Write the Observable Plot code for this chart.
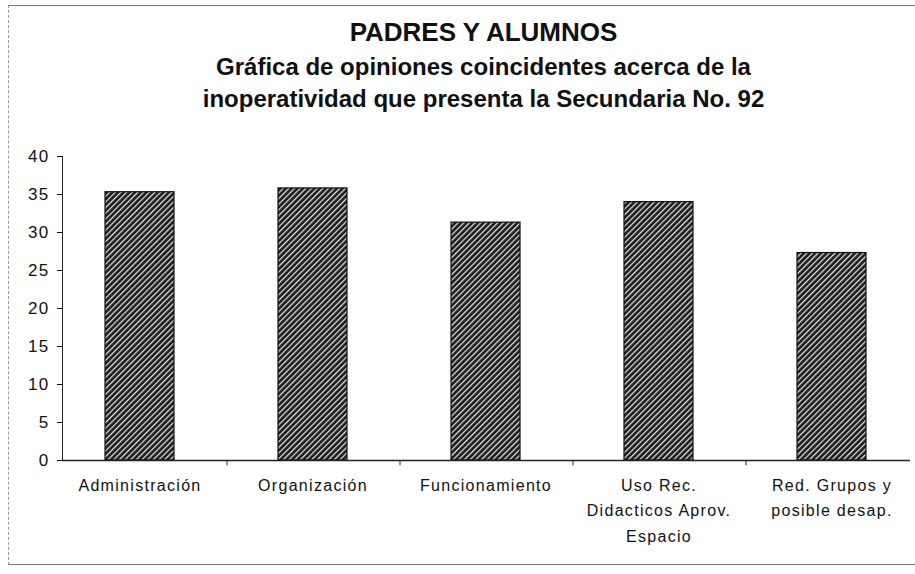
<!DOCTYPE html>
<html>
<head>
<meta charset="utf-8">
<script src="https://cdn.jsdelivr.net/npm/d3@7"></script>
<script src="https://cdn.jsdelivr.net/npm/@observablehq/plot@0.6"></script>
<style>
  body { margin: 0; background: #fff; font-family: "Liberation Sans", Arial, sans-serif; }
  #wrap { position: relative; width: 915px; height: 574px; overflow: hidden; }
  #frame { position: absolute; left: 8px; top: 5px; width: 910px; height: 560px; border-left: 1px dashed #999; border-top: 1px solid #777; border-bottom: 1px solid #777; box-sizing: border-box; }
  .t { position: absolute; left: 0; width: 967px; text-align: center; font-weight: bold; color: #111; line-height: 1.15; }
  #title { top: 18px; font-size: 26px; }
  #sub1 { top: 53px; font-size: 24px; }
  #sub2 { top: 85px; font-size: 24px; }
  #chart { position: absolute; left: 0; top: 120px; }
</style>
</head>
<body>
<div id="wrap">
  <div id="frame"></div>
  <div class="t" id="title">PADRES Y ALUMNOS</div>
  <div class="t" id="sub1">Gráfica de opiniones coincidentes acerca de la</div>
  <div class="t" id="sub2">inoperatividad que presenta la Secundaria No. 92</div>
  <div id="chart"></div>
</div>
<script>
const categories = ["Administración", "Organización", "Funcionamiento", "Uso Rec. Didacticos Aprov. Espacio", "Red. Grupos y posible desap."];
const categoryLabels = ["Administración", "Organización", "Funcionamiento", "Uso Rec.\nDidacticos Aprov.\nEspacio", "Red. Grupos y\nposible desap."];
const values = [35.3, 35.8, 31.3, 34, 27.3];
const yTicks = [0, 5, 10, 15, 20, 25, 30, 35, 40];

const data = categories.map((c, i) => ({category: c, label: categoryLabels[i], value: values[i]}));

const chart = Plot.plot({
  width: 915,
  height: 454,
  marginTop: 36,
  marginBottom: 114,
  marginLeft: 62,
  marginRight: 5,
  style: {fontFamily: "'Liberation Sans', Arial, sans-serif", fontSize: "16px", color: "#111", letterSpacing: "1.3px"},
  x: {domain: categories, paddingInner: 0.6, paddingOuter: 0.24, axis: null},
  y: {domain: [0, 40], ticks: yTicks, label: null},
  marks: [
    Plot.barY(data, {x: "category", y: "value", fill: "url(#hatch)", stroke: "#111", strokeWidth: 1.2}),
    Plot.axisY({ticks: yTicks, tickSize: 5, tickPadding: 8, label: null, fontSize: 17}),
    Plot.frame({anchor: "left", stroke: "#222"}),
    Plot.ruleY([0], {stroke: "#222", strokeWidth: 1.3}),
    Plot.ruleX(categories.slice(0, 4), {x: d => d, y1: 0, y2: -0.7, dx: 87, stroke: "#222"}),
    Plot.text(data, {x: "category", text: "label", frameAnchor: "bottom", lineAnchor: "top", dy: 12, lineHeight: 1.6, fontSize: 16, fill: "#111"})
  ]
});

const ns = "http://www.w3.org/2000/svg";
const defs = document.createElementNS(ns, "defs");
defs.innerHTML = `<pattern id="hatch" patternUnits="userSpaceOnUse" width="4" height="4" patternTransform="rotate(45)">
  <rect width="4" height="4" fill="#1e1e1e"></rect>
  <rect x="0" y="0" width="1.2" height="4" fill="#e8e8e8"></rect>
</pattern>`;
chart.insertBefore(defs, chart.firstChild);
document.getElementById("chart").appendChild(chart);
</script>
</body>
</html>
